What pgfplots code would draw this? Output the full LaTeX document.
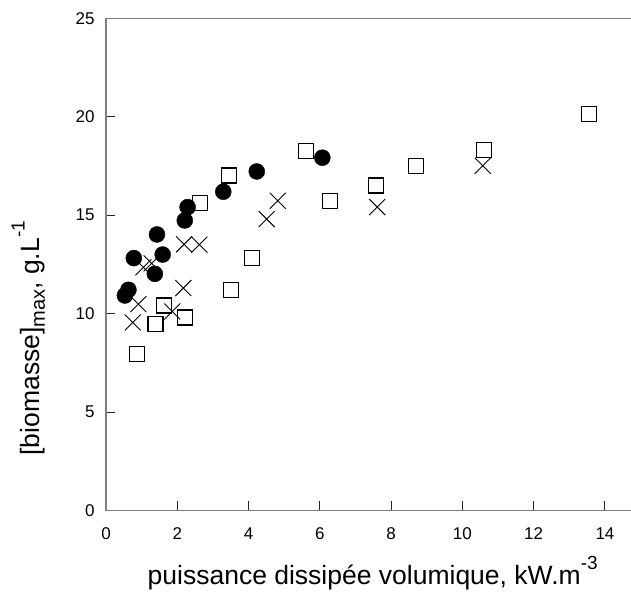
\documentclass[border=0pt]{standalone}
\usepackage{fontspec}
\setmainfont{Liberation Sans}
\usepackage{pgfplots}
\pgfplotsset{compat=1.18}
\newcommand{\sub}[1]{\raisebox{-0.22em}{\fontsize{20}{20}\selectfont #1}}
\newcommand{\sups}[1]{\raisebox{0.55em}{\fontsize{19}{19}\selectfont #1}}
\begin{document}
\begin{tikzpicture}
\begin{axis}[
  scale only axis,
  width=525pt, height=492.2pt,
  xmin=0, xmax=14.73, ymin=0, ymax=25,
  axis x line*=bottom, axis y line*=left,
  xtick pos=left, ytick pos=left,
  every outer y axis line/.append style={-},
  every outer x axis line/.append style={-},
  axis line style={-, draw=black!50, line width=1.3pt},
  xtick={0,2,...,14}, ytick={0,5,...,25},
  tick align=inside,
  major tick length=9pt,
  tick style={black!85, line width=1pt},
  /pgf/number format/assume math mode=true,
  tick label style={font=\fontsize{17}{17}\selectfont},
  xticklabel style={yshift=-14pt},
  yticklabel style={xshift=-8pt},
  xlabel={puissance dissipée volumique, kW.m\sups{-3}},
  ylabel={[biomasse]\sub{max}, g.L\sups{-1}},
  label style={font=\fontsize{26.5}{26.5}\selectfont},
  xlabel style={at={(axis description cs:0.508,-0.127)}, anchor=center},
  ylabel style={at={(axis description cs:-0.148,0.35)}, anchor=center},
  clip=false,
]
\draw[black!50, line width=1.3pt] (rel axis cs:0,1) -- (rel axis cs:1,1);
\addplot[only marks, mark=square, mark size=7.5pt, mark options={black, line width=1.2pt, fill=none}] coordinates {
(0.88,7.94) (1.39,9.48) (1.63,10.41) (2.21,9.80) (2.64,15.62) (3.46,17.02) (3.51,11.21)
(4.09,12.82) (5.61,18.24) (6.28,15.73) (7.57,16.51) (8.70,17.51) (10.61,18.33) (13.56,20.14)
};
\addplot[only marks, mark=x, mark size=11.3pt, mark options={black, line width=0.9pt}] coordinates {
(0.75,9.55) (0.91,10.48) (1.05,12.35) (1.28,12.55) (1.86,10.11) (2.17,11.30)
(2.19,13.52) (2.62,13.50) (4.51,14.80) (4.82,15.73) (7.61,15.41) (10.57,17.51)
};
\addplot[only marks, mark=*, mark size=8pt, mark options={black, fill=black}] coordinates {
(0.53,10.92) (0.63,11.21) (0.78,12.82) (1.37,12.02) (1.43,14.02) (1.59,13.00)
(2.21,14.73) (2.29,15.41) (3.29,16.19) (4.23,17.22) (6.07,17.92)
};
\coordinate (ll) at (rel axis cs:0,0);
\coordinate (ur) at (rel axis cs:1,1);
\end{axis}
\pgfresetboundingbox
\path ([shift={(-106pt,-85.5pt)}]ll) rectangle ([shift={(0pt,18.3pt)}]ur);
\end{tikzpicture}
\end{document}
